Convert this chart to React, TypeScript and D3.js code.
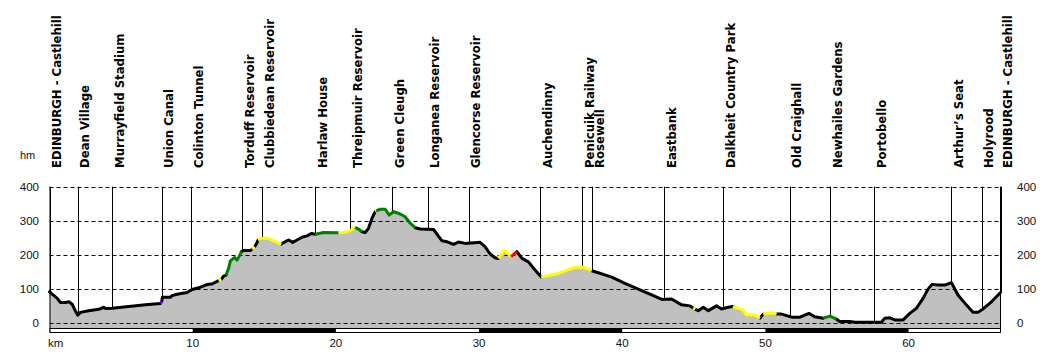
import React from 'react';
import * as d3 from 'd3';

// Elevation profile (km along route, metres)
const profileKm = [
  0, 0.54, 0.77, 1.12, 1.35, 1.58, 1.77, 1.97, 2.16, 2.74, 3.44, 3.79, 3.91, 4.38, 5.53, 6.70,
  7.75, 7.84, 7.88, 8.44, 8.56, 8.91, 9.61, 9.96, 10.42, 10.89, 11.24, 11.35, 11.81, 12.00,
  12.16, 12.33, 12.51, 12.63, 12.93, 13.10, 13.33, 13.40, 13.56, 14.03, 14.15, 14.33, 14.49,
  14.56, 14.72, 15.19, 15.54, 15.89, 16.19, 16.47, 16.70, 16.98, 17.29, 17.63, 17.98, 18.28,
  18.56, 19.14, 20.19, 20.54, 21.00, 21.35, 21.58, 21.82, 22.05, 22.28, 22.52, 22.75, 22.82,
  23.10, 23.45, 23.73, 24.03, 24.49, 24.84, 25.19, 25.54, 25.89, 26.82, 27.06, 27.40, 27.75,
  28.21, 28.56, 29.03, 30.08, 30.43, 30.77, 31.12, 31.35, 31.77, 32.24, 32.64, 33.00, 33.45,
  33.91, 34.33, 34.61, 35.54, 36.13, 36.71, 37.29, 37.87, 38.33, 39.27, 40.19, 41.12, 42.06,
  42.76, 43.45, 44.15, 44.73, 44.95, 45.10, 45.31, 45.66, 46.01, 46.59, 46.94, 47.40, 47.73,
  48.45, 48.69, 49.27, 49.62, 49.85, 50.43, 50.78, 51.13, 51.83, 52.41, 53.04, 53.45, 54.03,
  54.50, 54.97, 55.20, 55.90, 56.25, 58.11, 58.34, 58.69, 59.04, 59.62, 60.08, 60.55, 61.01,
  61.36, 61.64, 62.05, 62.53, 62.99, 63.45, 64.03, 64.50, 64.85, 65.20, 65.79, 66.42,
];
const profileElev = [
  92, 73, 61, 61, 63, 56, 39, 24, 32, 37, 41, 47, 43, 44, 49, 54,
  58, 64, 76, 76, 81, 85, 90, 99, 104, 112, 115, 115, 125, 129,
  138, 141, 161, 183, 193, 185, 202, 210, 213, 213, 217, 224, 236,
  244, 248, 250, 244, 237, 232, 239, 244, 237, 244, 252, 256, 263,
  261, 266, 265, 266, 271, 281, 276, 268, 266, 278, 307, 327, 329,
  334, 334, 317, 327, 320, 312, 293, 280, 276, 275, 261, 242, 239,
  231, 238, 234, 237, 224, 203, 192, 190, 214, 195, 210, 190, 180,
  156, 136, 138, 146, 156, 164, 164, 154, 148, 135, 117, 100, 83,
  70, 71, 54, 51, 45, 41, 37, 47, 37, 51, 42, 47, 49,
  39, 24, 24, 15, 27, 31, 27, 27, 18, 18, 29, 19, 15,
  21, 12, 5, 5, 3, 3, 15, 16, 10, 10, 29, 44, 73,
  100, 114, 112, 112, 119, 83, 54, 32, 32, 42, 63, 90,
];
// gradient class of the segment starting at each point: k=normal, y, g, r, p
const segmentClass = [
  'k', 'k', 'k', 'k', 'k', 'k', 'k', 'k', 'k', 'k', 'k', 'k', 'k', 'k', 'k', 'k',
  'p', 'k', 'k', 'k', 'k', 'k', 'k', 'k', 'k', 'k', 'k', 'k', 'y', 'k',
  'k', 'g', 'g', 'g', 'g', 'g', 'g', 'k', 'k', 'k', 'y', 'k', 'k',
  'y', 'y', 'y', 'y', 'y', 'k', 'k', 'k', 'k', 'k', 'k', 'k', 'k',
  'g', 'g', 'y', 'y', 'y', 'g', 'g', 'k', 'k', 'k', 'k', 'y', 'g',
  'g', 'g', 'g', 'g', 'g', 'g', 'g', 'k', 'k', 'k', 'k', 'k', 'k',
  'k', 'k', 'k', 'k', 'k', 'k', 'k', 'y', 'y', 'r', 'k', 'k', 'k',
  'k', 'y', 'y', 'y', 'y', 'y', 'y', 'k', 'k', 'k', 'k', 'k', 'k',
  'k', 'k', 'k', 'k', 'y', 'k', 'k', 'k', 'k', 'k', 'k', 'k', 'y',
  'y', 'y', 'y', 'k', 'y', 'y', 'k', 'k', 'k', 'k', 'k', 'k', 'g',
  'g', 'k', 'k', 'k', 'k', 'k', 'k', 'k', 'k', 'k', 'k', 'k', 'k',
  'k', 'k', 'k', 'k', 'k', 'k', 'k', 'k', 'k', 'k', 'k', 'k',
];
const classColors: Record<string, string> = {
  k: '#000000', y: '#ffff00', g: '#008000', r: '#ff0000', p: '#8000ff',
};

const waypointNames = [
  'EDINBURGH - Castlehill', 'Dean Village', 'Murrayfield Stadium', 'Union Canal',
  'Colinton Tunnel', 'Torduff Reservoir', 'Clubbiedean Reservoir', 'Harlaw House',
  'Threipmuir Reservoir', 'Green Cleugh', 'Longanea Reservoir', 'Glencorse Reservoir',
  'Auchendinny', 'Penicuik Railway', 'Rosewell', 'Eastbank', 'Dalkheit Country Park',
  'Old Craighall', 'Newhailes Gardens', 'Portobello', 'Arthur\u2019s Seat', 'Holyrood',
  'EDINBURGH - Castlehill',
];
const waypointKm = [
  0, 1.97, 4.40, 7.84, 9.91, 13.47, 14.87, 18.57, 21.0, 23.94, 26.41, 29.28,
  34.28, 37.21, 37.91, 42.94, 47.05, 51.69, 54.53, 57.6, 62.98, 65.10, 66.42,
];
const elevTicks = [0, 100, 200, 300, 400];
const kmTicks = [10, 20, 30, 40, 50, 60];
const barBreaks = [0, 10, 20, 30, 40, 50, 60, 66.42];

export default function App() {
  const W = 1050;
  const H = 360;
  const x = d3.scaleLinear().domain([0, 66.42]).range([49.5, 1000.5]);
  const y = d3.scaleLinear().domain([0, 400]).range([323.3, 186.7]);
  const plotTop = y(400);
  const plotBottom = 328;
  const barBottom = 332.5;
  const left = x(0);
  const right = x(66.42);

  const pts = profileKm.map((k, i) => ({ k, e: profileElev[i] }));
  const area = d3
    .area<{ k: number; e: number }>()
    .x((d) => x(d.k))
    .y0(plotBottom)
    .y1((d) => y(d.e));
  const line = d3
    .line<{ k: number; e: number }>()
    .x((d) => x(d.k))
    .y((d) => y(d.e));

  const runs: { c: string; pts: { k: number; e: number }[] }[] = [];
  let cur: { c: string; pts: { k: number; e: number }[] } | null = null;
  for (let i = 0; i < pts.length - 1; i++) {
    const c = segmentClass[i] || 'k';
    if (!cur || cur.c !== c) {
      cur = { c, pts: [pts[i]] };
      runs.push(cur);
    }
    cur.pts.push(pts[i + 1]);
  }

  const bis = d3.bisector((d: { k: number }) => d.k).left;
  const interp = (k: number) => {
    const i = bis(pts, k);
    if (i <= 0) return pts[0].e;
    if (i >= pts.length) return pts[pts.length - 1].e;
    const a = pts[i - 1];
    const b = pts[i];
    const t = (k - a.k) / (b.k - a.k);
    return a.e + t * (b.e - a.e);
  };

  const axisFont = 'Liberation Sans, Arial, sans-serif';

  return (
    <svg
      width={W}
      height={H}
      style={{ position: 'absolute', left: 0, top: 0, background: '#fff' }}
    >
      <path d={area(pts) || ''} fill="#c0c0c0" />
      {elevTicks.map((t) => (
        <line
          key={'g' + t}
          x1={left}
          x2={right}
          y1={Math.round(y(t)) + 0.5}
          y2={Math.round(y(t)) + 0.5}
          stroke="#000"
          strokeWidth={1}
          strokeDasharray="4,3"
        />
      ))}
      {waypointKm.map((k, i) => (
        <line
          key={'w' + i}
          x1={Math.round(x(k)) + 0.5}
          x2={Math.round(x(k)) + 0.5}
          y1={plotTop}
          y2={y(interp(k))}
          stroke="#000"
          strokeWidth={1}
        />
      ))}
      {runs
        .filter((r) => r.c === 'k')
        .map((r, i) => (
          <path
            key={'rk' + i}
            d={line(r.pts) || ''}
            fill="none"
            stroke={classColors[r.c]}
            strokeWidth={3}
            strokeLinejoin="round"
            strokeLinecap="round"
          />
        ))}
      {runs
        .filter((r) => r.c !== 'k')
        .map((r, i) => (
          <path
            key={'rc' + i}
            d={line(r.pts) || ''}
            fill="none"
            stroke={classColors[r.c]}
            strokeWidth={3}
            strokeLinejoin="round"
            strokeLinecap="butt"
          />
        ))}
      <line x1={left + 0.5} x2={left + 0.5} y1={plotTop} y2={barBottom} stroke="#000" />
      <line x1={right} x2={right} y1={plotTop} y2={barBottom} stroke="#000" />
      <rect
        x={left + 0.5}
        y={plotBottom + 0.5}
        width={right - left - 0.5}
        height={barBottom - plotBottom - 0.5}
        fill="#fff"
        stroke="#000"
        strokeWidth={1}
      />
      {barBreaks.slice(0, -1).map((b, i) =>
        i % 2 === 1 ? (
          <rect
            key={'b' + i}
            x={x(b)}
            y={plotBottom}
            width={x(barBreaks[i + 1]) - x(b)}
            height={barBottom - plotBottom + 0.5}
            fill="#000"
          />
        ) : null
      )}
      {elevTicks.map((t) => (
        <text
          key={'yl' + t}
          x={39}
          y={y(t)}
          dy="0.35em"
          textAnchor="end"
          fontFamily={axisFont}
          fontSize={11.5}
          fill="#111"
        >
          {t}
        </text>
      ))}
      {elevTicks.map((t) => (
        <text
          key={'yr' + t}
          x={1017}
          y={y(t)}
          dy="0.35em"
          textAnchor="start"
          fontFamily={axisFont}
          fontSize={11.5}
          fill="#111"
        >
          {t}
        </text>
      ))}
      {kmTicks.map((t) => (
        <text
          key={'xl' + t}
          x={x(t)}
          y={347}
          textAnchor="middle"
          fontFamily={axisFont}
          fontSize={11.5}
          fill="#111"
        >
          {t}
        </text>
      ))}
      <text x={48} y={347} fontFamily={axisFont} fontSize={11.5} fill="#111">
        km
      </text>
      <text x={20} y={159} fontFamily={axisFont} fontSize={11} fill="#111">
        hm
      </text>
      {waypointNames.map((n, i) => (
        <text
          key={'t' + i}
          transform={`translate(${x(waypointKm[i]) + 11.5},168) rotate(-90)`}
          fontFamily="DejaVu Sans, Verdana, sans-serif"
          fontWeight="bold"
          fontSize={11.7}
          fill="#000"
        >
          {n}
        </text>
      ))}
    </svg>
  );
}
